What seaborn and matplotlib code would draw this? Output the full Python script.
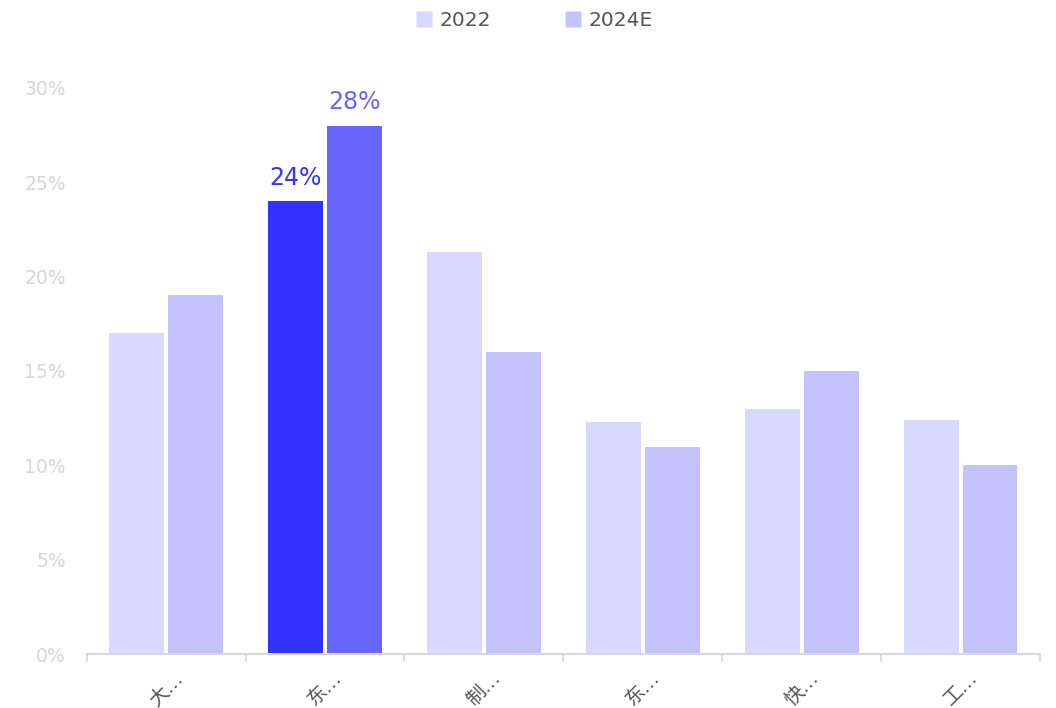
import matplotlib
matplotlib.use("Agg")
import matplotlib.pyplot as plt
import seaborn as sns
import pandas as pd
from matplotlib.ticker import FuncFormatter, FixedLocator
from matplotlib.lines import Line2D

categories = ["大…", "东…", "制…", "东…", "快…", "工…"]
series_names = ["2022", "2024E"]
values_2022 = [17.0, 24.0, 21.3, 12.3, 13.0, 12.4]
values_2024 = [19.0, 28.0, 16.0, 11.0, 15.0, 10.0]
highlight_index = 1
base_colors = ["#d9d8ff", "#c4c3ff"]
highlight_colors = ["#3333ff", "#6666ff"]

sns.set_theme(style="white")
plt.rcParams['font.family'] = ['DejaVu Sans', 'Noto Sans CJK SC']

df = pd.DataFrame({
    "cat": categories * 2,
    "pos": list(range(len(categories))) * 2,
    "series": [series_names[0]] * len(categories) + [series_names[1]] * len(categories),
    "value": values_2022 + values_2024,
})

fig, ax = plt.subplots(figsize=(10.56, 7.08), dpi=100)
fig.subplots_adjust(left=0.082, right=0.985, top=0.876, bottom=0.076)

sns.barplot(data=df, x="pos", y="value", hue="series", palette=base_colors,
            width=0.74, gap=0.07, ax=ax, legend=False, saturation=1)

for si, cont in enumerate(ax.containers):
    for ci, bar in enumerate(cont):
        bar.set_edgecolor("none")
        if ci == highlight_index:
            bar.set_facecolor(highlight_colors[si])
            ax.text(bar.get_x() + bar.get_width() / 2, bar.get_height() + 0.6,
                    f"{bar.get_height():.0f}%", ha="center", va="bottom",
                    color=highlight_colors[si], fontsize=17)

ax.set_xlim(-0.5, len(categories) - 0.5)
ax.set_ylim(0, 30)
ax.set_yticks([0, 5, 10, 15, 20, 25, 30])
ax.yaxis.set_major_formatter(FuncFormatter(lambda v, p: f"{v:.0f}%"))
ax.tick_params(axis="y", labelsize=13.5, length=0, pad=15)
for lbl in ax.get_yticklabels():
    lbl.set_color("#d6d6d6")

ax.set_xticks(range(len(categories)))
ax.set_xticklabels(categories, rotation=45, ha="center",
                   color="#555555", fontsize=14)
ax.tick_params(axis="x", which="major", length=0, pad=10)
ax.xaxis.set_minor_locator(FixedLocator([i - 0.5 for i in range(len(categories) + 1)]))
ax.tick_params(axis="x", which="minor", bottom=True, length=6, color="#d8d8d8",
               width=1.2, direction="out")
ax.set_xlabel("")
ax.set_ylabel("")

for s in ["top", "right", "left"]:
    ax.spines[s].set_visible(False)
ax.spines["bottom"].set_color("#d8d8d8")
ax.spines["bottom"].set_linewidth(1.5)

handles = [Line2D([0], [0], marker="s", linestyle="none", markersize=11,
                  markerfacecolor=c, markeredgecolor="none") for c in base_colors]
fig.legend(handles, series_names, loc="upper center", bbox_to_anchor=(0.505, 1.01),
           ncol=2, frameon=False, fontsize=14.5, labelcolor="#555555",
           handletextpad=0.25, columnspacing=3.6, handlelength=1.0)

fig.savefig("out.png", dpi=100)
